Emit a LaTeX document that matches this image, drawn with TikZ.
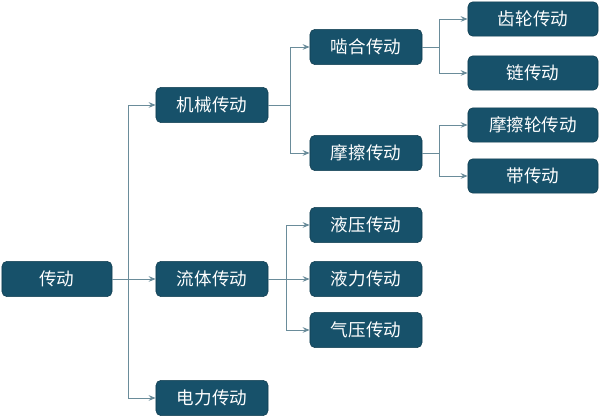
\documentclass[tikz,border=0pt]{standalone}
\usepackage{fontspec}
\newfontfamily\cjk{Noto Sans CJK SC}
\usetikzlibrary{arrows.meta}
\definecolor{boxfill}{HTML}{17516A}
\definecolor{boxline}{HTML}{103D50}
\definecolor{linkcol}{HTML}{6A8C9A}
\tikzset{
  tbox/.style={draw=boxline, fill=boxfill, rounded corners=3.5pt, text=white,
    minimum width=2.8cm, minimum height=0.88cm, inner sep=0pt,
    font=\cjk\fontsize{12.5}{14}\selectfont},
  wbox/.style={tbox, minimum width=3.25cm, minimum height=0.86cm},
  link/.style={draw=linkcol, line width=0.7pt},
  linkarr/.style={link, -{Stealth[length=5pt,width=4pt]}}
}
\begin{document}
\begin{tikzpicture}[x=0.025cm,y=-0.025cm]
\useasboundingbox (0,0) rectangle (600,418);

% --- root ---
\node[tbox, minimum width=2.75cm] (root) at (57,279) {传动};

% --- second level ---
\node[tbox] (mech)  at (212,105) {机械传动};
\node[tbox] (fluid) at (212,279) {流体传动};
\node[tbox] (elec)  at (212,398) {电力传动};

% --- third level ---
\node[tbox] (mesh)  at (366,47)  {啮合传动};
\node[tbox] (fric)  at (366,153) {摩擦传动};
\node[tbox] (hyd)   at (366,225) {液压传动};
\node[tbox] (hydro) at (366,279) {液力传动};
\node[tbox] (pneu)  at (366,330) {气压传动};

% --- fourth level ---
\node[wbox] (gear)  at (533,19)  {齿轮传动};
\node[wbox] (chain) at (533,73)  {链传动};
\node[wbox] (wheel) at (533,125) {摩擦轮传动};
\node[wbox] (belt)  at (533,176) {带传动};

% --- branch points ---
\coordinate (jroot)  at (128,279);
\coordinate (jmech)  at (290,105);
\coordinate (jfluid) at (286,279);
\coordinate (jmesh)  at (439,47);
\coordinate (jfric)  at (439,153);

% --- connectors ---
\draw[link] (root.east) -- (jroot);
\foreach \n in {mech,fluid,elec} \draw[linkarr] (jroot) |- (\n.west);

\draw[link] (mech.east) -- (jmech);
\foreach \n in {mesh,fric} \draw[linkarr] (jmech) |- (\n.west);

\draw[link] (fluid.east) -- (jfluid);
\foreach \n in {hyd,hydro,pneu} \draw[linkarr] (jfluid) |- (\n.west);

\draw[link] (mesh.east) -- (jmesh);
\foreach \n in {gear,chain} \draw[linkarr] (jmesh) |- (\n.west);

\draw[link] (fric.east) -- (jfric);
\foreach \n in {wheel,belt} \draw[linkarr] (jfric) |- (\n.west);

\end{tikzpicture}
\end{document}
